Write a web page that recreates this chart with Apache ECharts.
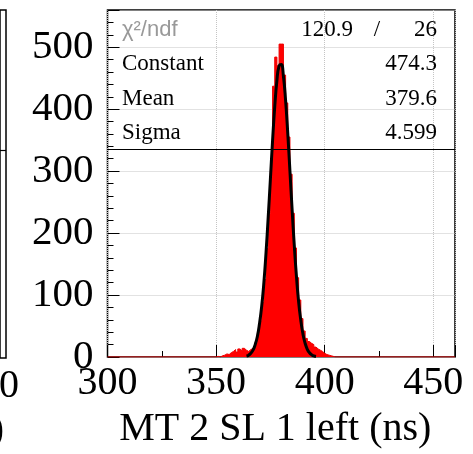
<!DOCTYPE html>
<html lang="en" style="height: 100%">
<head>
  <meta charset="utf-8">
</head>
<body style="height: 100%; margin: 0; background: #fff">
  <div id="container" style="width: 473px; height: 454px"></div>

  <script type="text/javascript" src="https://cdn.jsdelivr.net/npm/echarts@6/dist/echarts.min.js"></script>

  <script type="text/javascript">
    // histogram: counts per 1 ns bin, first bin starts at binStart
    var binStart = 350;
    var counts = [
      1, 0, 2, 3, 5, 4, 7, 9, 12, 8,
      13, 10, 14, 11, 9, 12, 14, 17, 24, 38,
      58, 88, 125, 175, 232, 300, 437, 484, 470, 505,
      505, 455, 410, 355, 295, 232, 176, 128, 92, 62,
      42, 30, 25, 22, 20, 16, 13, 11, 9, 6,
      4, 3, 2, 1, 0
    ];

    // gaussian fit curve, one point per ns from fitStart
    var fitStart = 364;
    var fitValues = [
      1.5, 3, 6, 11, 20, 33, 54, 82, 120, 169,
      226, 287, 349, 404, 446, 470, 472, 453, 414, 361,
      300, 238, 180, 130, 89, 59, 37, 22, 12.5, 6.8,
      3.5, 1.7, 0.8
    ];

    // fit results shown in the stats box
    var statNames = ['Constant', 'Mean', 'Sigma'];
    var statValues = ['474.3', '379.6', '4.599'];
    var chi2 = '120.9', ndf = '26';

    var xTitle = 'MT 2 SL 1 left (ns)';
    var statLineValue = 335;

    var histData = [[300, 0]];
    counts.forEach(function (c, i) {
      histData.push([binStart + i, c]);
    });
    histData.push([binStart + counts.length, 0]);
    histData.push([460, 0]);

    var fitData = fitValues.map(function (v, i) {
      return [fitStart + i, v];
    });

    var serif = '"Liberation Serif", "Times New Roman", serif';

    var statLine = {
      symbol: 'none',
      silent: true,
      label: { show: false },
      lineStyle: { color: '#000', type: 'solid', width: 1.2 },
      data: [{ yAxis: statLineValue }]
    };

    // stats box texts, plus the clipped bits of the neighbouring panel
    var texts = [
      { text: 'χ²/ndf', x: 122, y: 30, align: 'left', color: '#999', font: '22px "Liberation Sans", sans-serif' },
      { text: chi2, x: 353, y: 30, align: 'right' },
      { text: '/', x: 377, y: 30, align: 'center' },
      { text: ndf, x: 437, y: 30, align: 'right' },
      { text: '450', x: -11, y: 386, align: 'center', font: '40px ' + serif },
      { text: xTitle, x: 4, y: 430, align: 'right', font: '40px ' + serif }
    ];
    statNames.forEach(function (n, i) {
      var y = 64 + i * 34.5;
      texts.push({ text: n, x: 122, y: y, align: 'left' });
      texts.push({ text: statValues[i], x: 437, y: y, align: 'right' });
    });

    var graphics = texts.map(function (t) {
      return {
        type: 'text',
        z: 100,
        style: {
          text: t.text,
          x: t.x,
          y: t.y,
          textAlign: t.align,
          textVerticalAlign: 'middle',
          font: t.font || ('23px ' + serif),
          fill: t.color || '#000'
        }
      };
    });

    var myChart = echarts.init(document.getElementById('container'), null, { renderer: 'canvas' });

    var option = {
      animation: false,
      backgroundColor: '#fff',
      grid: [
        { left: 107.5, right: 18, top: 10, bottom: 96, show: true, borderColor: '#000', borderWidth: 1.5, backgroundColor: 'transparent' },
        // neighbouring panel, only its right edge is in view
        { left: -4, width: 10, top: 10, bottom: 96, show: true, borderColor: '#000', borderWidth: 1.5, backgroundColor: 'transparent' }
      ],
      xAxis: [
        {
          gridIndex: 0,
          type: 'value',
          min: 300,
          max: 460,
          interval: 50,
          name: xTitle,
          nameLocation: 'middle',
          nameGap: 52,
          nameTextStyle: { fontFamily: serif, fontSize: 40, color: '#000', padding: [0, 12, 0, 0] },
          axisLine: { show: false },
          axisTick: { inside: true, length: 12, lineStyle: { color: '#000' } },
          minorTick: { show: true, splitNumber: 2, length: 6, lineStyle: { color: '#000' } },
          splitLine: { show: true, lineStyle: { color: '#c4c4c4', type: 'dotted' } },
          axisLabel: { fontFamily: serif, fontSize: 40, color: '#000', margin: 6, showMaxLabel: false }
        },
        { gridIndex: 1, type: 'value', min: 455, max: 460, show: false }
      ],
      yAxis: [
        {
          gridIndex: 0,
          type: 'value',
          min: 0,
          max: 560,
          interval: 100,
          axisLine: { show: false },
          axisTick: { inside: true, length: 12, lineStyle: { color: '#000' } },
          minorTick: { show: true, splitNumber: 5, length: 6, lineStyle: { color: '#000' } },
          splitLine: { show: true, lineStyle: { color: '#c4c4c4', type: 'dotted' } },
          axisLabel: { fontFamily: serif, fontSize: 41, color: '#000', margin: 14, showMaxLabel: false }
        },
        { gridIndex: 1, type: 'value', min: 0, max: 560, show: false }
      ],
      graphic: graphics,
      series: [
        {
          type: 'line',
          xAxisIndex: 0,
          yAxisIndex: 0,
          data: histData,
          step: 'end',
          showSymbol: false,
          lineStyle: { color: '#ee0000', width: 1 },
          areaStyle: { color: '#ff0000', opacity: 1 },
          markLine: statLine,
          z: 2
        },
        {
          type: 'line',
          xAxisIndex: 0,
          yAxisIndex: 0,
          data: fitData,
          smooth: true,
          showSymbol: false,
          lineStyle: { color: '#000', width: 3 },
          z: 3
        },
        {
          type: 'line',
          xAxisIndex: 1,
          yAxisIndex: 1,
          data: [[455, 0]],
          showSymbol: false,
          lineStyle: { width: 0 },
          markLine: statLine
        }
      ]
    };

    myChart.setOption(option);
  </script>
</body>
</html>
